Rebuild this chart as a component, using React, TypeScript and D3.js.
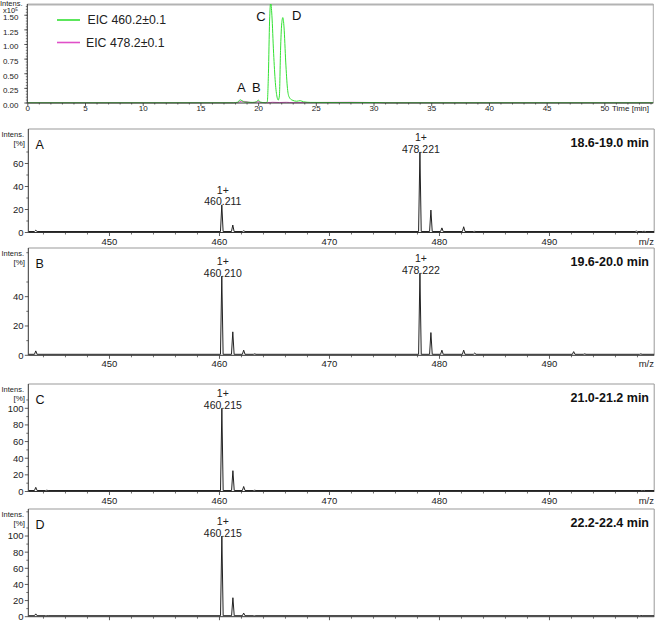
import React from "react";
import * as d3 from "d3";

// ---------- DATA ----------
// Extracted ion chromatograms (time [min], intensity x10^5)
const eic460Time = [0, 5, 10, 15, 17.8, 18.2, 18.4, 18.55, 18.8, 19.5, 19.8, 19.97, 20.15, 20.6, 20.75, 20.85, 20.95, 21.05, 21.15, 21.3, 21.45, 21.6, 21.7, 21.8, 21.9, 22.0, 22.1, 22.2, 22.35, 22.5, 22.65, 22.9, 23.3, 23.6, 23.9, 24.5, 27, 30.5, 31, 54.2];
const eic460Value = [0.004, 0.004, 0.004, 0.004, 0.004, 0.015, 0.055, 0.04, 0.015, 0.01, 0.02, 0.05, 0.015, 0.005, 0.02, 0.5, 1.4, 1.72, 1.5, 0.85, 0.35, 0.1, 0.05, 0.12, 0.9, 1.35, 1.46, 1.3, 0.7, 0.25, 0.1, 0.05, 0.03, 0.04, 0.02, 0.01, 0.008, 0.008, 0.004, 0.004];
const eic478Time = [0, 17.8, 18.2, 18.5, 18.9, 19.3, 19.7, 19.95, 20.2, 20.8, 21.2, 21.8, 22.4, 23, 26, 28, 30, 31, 54.2];
const eic478Value = [0.003, 0.003, 0.01, 0.03, 0.025, 0.008, 0.01, 0.025, 0.008, 0.005, 0.012, 0.008, 0.012, 0.005, 0.01, 0.012, 0.008, 0.003, 0.003];

const legendLabels = ["EIC 460.2±0.1", "EIC 478.2±0.1"];
const chromTicksX = [0, 5, 10, 15, 20, 25, 30, 35, 40, 45, 50];
const chromTicksY = [0, 0.25, 0.5, 0.75, 1.0, 1.25, 1.5];
const chromPeakLetters = ["A", "B", "C", "D"];
const chromPeakLetterTime = [18.5, 19.8, 20.2, 23.3];
const chromPeakLetterValue = [0.27, 0.27, 1.48, 1.5];

// Mass spectra peaks: [m/z, relative intensity %]
const peaksA: [number, number][] = [[443.3, 2], [460.211, 24], [461.21, 6.5], [462.2, 1.5], [478.221, 70], [479.22, 19.5], [480.22, 4], [482.2, 5], [483.2, 1], [497.9, 1.2], [498.6, 1]];
const peaksB: [number, number][] = [[443.3, 3], [460.21, 54], [461.21, 16], [462.2, 3.5], [463.2, 1], [478.222, 56], [479.22, 15.5], [480.22, 3.5], [482.2, 3.5], [483.2, 1.5], [492.2, 2.5], [493.2, 1], [498.3, 1]];
const peaksC: [number, number][] = [[443.3, 5], [444.3, 1.5], [460.215, 100], [461.22, 25], [462.2, 6], [463.2, 1.5], [498.5, 1]];
const peaksD: [number, number][] = [[443.3, 3.5], [444.3, 1.2], [460.215, 100], [461.22, 23.5], [462.2, 4.5], [463.2, 1], [498.3, 1.5]];

const labelsA = ["460.211", "478.221"];
const labelsB = ["460.210", "478.222"];
const labelsC = ["460.215"];
const labelsD = ["460.215"];

const panelLetters = ["A", "B", "C", "D"];
const timeWindows = ["18.6-19.0 min", "19.6-20.0 min", "21.0-21.2 min", "22.2-22.4 min"];
const ticksYA = [0, 20, 40, 60];
const ticksYB = [0, 20, 40];
const ticksYC = [0, 20, 40, 60, 80, 100];
const ticksYD = [0, 20, 40, 60, 80, 100];
const mzTicks = [450, 460, 470, 480, 490];

// ---------- LAYOUT ----------
const W = 656;
const H = 623;
const FONT = "'Liberation Sans', Arial, Helvetica, sans-serif";
const AXIS = "#333";
const GREEN = "#33e033";
const MAGENTA = "#e050c8";

function Chromatogram() {
  const x = d3.scaleLinear().domain([0, 54.2]).range([27.8, 653.3]);
  const y = d3.scaleLinear().domain([0, 1.675]).range([103, 5]);
  const line = d3
    .line<[number, number]>()
    .x((d) => x(d[0]))
    .y((d) => y(d[1]))
    .curve(d3.curveMonotoneX);
  const g460 = eic460Time.map((t, i) => [t, eic460Value[i]] as [number, number]);
  const g478 = eic478Time.map((t, i) => [t, eic478Value[i]] as [number, number]);
  const minorX = d3.range(0, 55, 1).filter((v) => v % 5 !== 0);
  const minorY = d3.range(0, 1.66, 0.05);
  const x0 = x(0) - 0.5;
  return (
    <g fontFamily={FONT}>
      <defs>
        <clipPath id="chromClip">
          <rect x={x0} y={4} width={653.3 - x0} height={100} />
        </clipPath>
      </defs>
      {/* frame */}
      <line x1={x0} x2={653.3} y1={4.5} y2={4.5} stroke="#b3b3b3" strokeWidth={2} />
      <line x1={653.3} x2={653.3} y1={4} y2={y(0)} stroke="#aaa" strokeWidth={1} />
      <g clipPath="url(#chromClip)">
        <path d={line(g478) || ""} fill="none" stroke={MAGENTA} strokeWidth={1} />
        <path d={line(g460) || ""} fill="none" stroke={GREEN} strokeWidth={1} />
      </g>
      {/* axes */}
      <line x1={x0} x2={653.3} y1={y(0)} y2={y(0)} stroke={AXIS} strokeWidth={1} />
      <line x1={x0} x2={x0} y1={4} y2={y(0)} stroke={AXIS} strokeWidth={1} />
      {minorX.map((v) => (
        <line key={"mx" + v} x1={x(v)} x2={x(v)} y1={y(0)} y2={y(0) + 1.5} stroke={AXIS} strokeWidth={0.7} />
      ))}
      {chromTicksX.map((v) => (
        <g key={"tx" + v}>
          <line x1={x(v)} x2={x(v)} y1={y(0)} y2={y(0) + 3} stroke={AXIS} strokeWidth={0.8} />
          <text x={x(v)} y={111} fontSize={8} textAnchor="middle" fill="#222">{v}</text>
        </g>
      ))}
      <text x={612} y={111} fontSize={8} fill="#222">Time [min]</text>
      {minorY.map((v, i) => (
        <line key={"my" + i} x1={x0 - 1.5} x2={x0} y1={y(v)} y2={y(v)} stroke={AXIS} strokeWidth={0.6} />
      ))}
      {chromTicksY.map((v) => (
        <g key={"ty" + v}>
          <line x1={x0 - 3} x2={x0} y1={y(v)} y2={y(v)} stroke={AXIS} strokeWidth={0.8} />
          <text x={18.5} y={y(v) + 4.8} fontSize={8} textAnchor="end" fill="#222">{v.toFixed(2)}</text>
        </g>
      ))}
      <text x={0} y={6} fontSize={7.5} fill="#222">Intens.</text>
      <text x={3} y={13.2} fontSize={7.5} fill="#222">x10⁵</text>
      {/* legend */}
      <line x1={57} x2={80} y1={20} y2={20} stroke={GREEN} strokeWidth={1.6} />
      <text x={87.5} y={24.3} fontSize={12.3} fill="#222">{legendLabels[0]}</text>
      <line x1={57} x2={80} y1={42.5} y2={42.5} stroke={MAGENTA} strokeWidth={1.6} />
      <text x={86} y={46.8} fontSize={12.3} fill="#222">{legendLabels[1]}</text>
      {/* peak letters */}
      {chromPeakLetters.map((l, i) => (
        <text key={l} x={x(chromPeakLetterTime[i])} y={y(chromPeakLetterValue[i]) + 4.5} fontSize={13} textAnchor="middle" fill="#111">{l}</text>
      ))}
    </g>
  );
}

type PanelProps = {
  top: number;
  zero: number;
  yMax: number;
  peaks: [number, number][];
  labels: string[];
  ticks: number[];
  letter: string;
  window: string;
  showXLabels: boolean;
  id: string;
};

function Spectrum(p: PanelProps) {
  const x = d3.scaleLinear().domain([442.62, 499.52]).range([28.3, 654.2]);
  const y = d3.scaleLinear().domain([0, p.yMax]).range([p.zero, p.top]);
  const base = p.yMax / (p.zero - p.top) * 1.0;
  const w = 0.12;
  const pts: [number, number][] = [[442.62, base]];
  [...p.peaks].sort((a, b) => a[0] - b[0]).forEach(([mz, h]) => {
    pts.push([mz - w, base], [mz, h], [mz + w, base]);
  });
  pts.push([499.52, base]);
  const line = d3.line<[number, number]>().x((d) => x(d[0])).y((d) => y(d[1]));
  const minorX = d3.range(444, 500, 2).filter((v) => v % 10 !== 0);
  const minorY = d3.range(10, p.yMax, 20);
  const xl = 28.3;
  const xr = 654.2;
  return (
    <g fontFamily={FONT}>
      <defs>
        <clipPath id={"clip" + p.id}>
          <rect x={xl} y={p.top} width={xr - xl} height={p.zero - p.top + 1} />
        </clipPath>
      </defs>
      <line x1={xl} x2={xr} y1={p.top} y2={p.top} stroke="#999" strokeWidth={1} />
      <line x1={xr} x2={xr} y1={p.top} y2={p.zero} stroke="#999" strokeWidth={1} />
      <g clipPath={"url(#clip" + p.id + ")"}>
        <path d={line(pts) || ""} fill="none" stroke="#222" strokeWidth={1} strokeLinejoin="round" />
      </g>
      <line x1={xl} x2={xr} y1={p.zero} y2={p.zero} stroke={AXIS} strokeWidth={1} />
      <line x1={xl} x2={xl} y1={p.top} y2={p.zero} stroke={AXIS} strokeWidth={1} />
      {minorX.map((v) => (
        <line key={"mx" + v} x1={x(v)} x2={x(v)} y1={p.zero} y2={p.zero + 2} stroke={AXIS} strokeWidth={0.7} />
      ))}
      {mzTicks.map((v) => (
        <g key={"tx" + v}>
          <line x1={x(v)} x2={x(v)} y1={p.zero} y2={p.zero + 3.5} stroke={AXIS} strokeWidth={0.8} />
          {p.showXLabels && (
            <text x={x(v)} y={p.zero + 12} fontSize={9.5} textAnchor="middle" fill="#222">{v}</text>
          )}
        </g>
      ))}
      {p.showXLabels && (
        <text x={654} y={p.zero + 12} fontSize={9.5} textAnchor="end" fill="#222">m/z</text>
      )}
      {minorY.map((v) => (
        <line key={"my" + v} x1={xl - 2} x2={xl} y1={y(v)} y2={y(v)} stroke={AXIS} strokeWidth={0.7} />
      ))}
      {p.ticks.map((v) => (
        <g key={"ty" + v}>
          <line x1={xl - 3.5} x2={xl} y1={y(v)} y2={y(v)} stroke={AXIS} strokeWidth={0.8} />
          <text x={23.5} y={y(v) + 3.4} fontSize={9.5} textAnchor="end" fill="#222">{v}</text>
        </g>
      ))}
      <text x={1.5} y={p.top + 8} fontSize={7.5} fill="#222">Intens.</text>
      <text x={25} y={p.top + 17} fontSize={8} textAnchor="end" fill="#222">[%]</text>
      <text x={35.5} y={p.top + 19.5} fontSize={12.5} fill="#111">{p.letter}</text>
      <text x={649} y={p.top + 17.5} fontSize={12.5} fontWeight="bold" textAnchor="end" fill="#111">{p.window}</text>
      {p.labels.map((lab) => {
        const pk = p.peaks.find((d) => Math.abs(d[0] - parseFloat(lab)) < 0.0015);
        if (!pk) return null;
        const tx = x(pk[0]) + 1;
        const ty = y(pk[1]);
        return (
          <g key={lab}>
            <text x={tx} y={ty - 11} fontSize={10.5} textAnchor="middle" fill="#222">1+</text>
            <text x={tx} y={ty + 0.5} fontSize={10.5} textAnchor="middle" fill="#222">{lab}</text>
          </g>
        );
      })}
    </g>
  );
}

export default function App() {
  const panels: PanelProps[] = [
    { id: "A", top: 129, zero: 232.5, yMax: 90, peaks: peaksA, labels: labelsA, ticks: ticksYA, letter: panelLetters[0], window: timeWindows[0], showXLabels: true },
    { id: "B", top: 248, zero: 355.3, yMax: 73.2, peaks: peaksB, labels: labelsB, ticks: ticksYB, letter: panelLetters[1], window: timeWindows[1], showXLabels: true },
    { id: "C", top: 384, zero: 491.5, yMax: 129.2, peaks: peaksC, labels: labelsC, ticks: ticksYC, letter: panelLetters[2], window: timeWindows[2], showXLabels: true },
    { id: "D", top: 509, zero: 616.7, yMax: 133.5, peaks: peaksD, labels: labelsD, ticks: ticksYD, letter: panelLetters[3], window: timeWindows[3], showXLabels: false },
  ];
  return (
    <svg width={W} height={H} viewBox={`0 0 ${W} ${H}`} style={{ position: "absolute", left: 0, top: 0, background: "#fff" }}>
      <rect width={W} height={H} fill="#fff" />
      <Chromatogram />
      {panels.map((p) => (
        <Spectrum key={p.id} {...p} />
      ))}
    </svg>
  );
}
